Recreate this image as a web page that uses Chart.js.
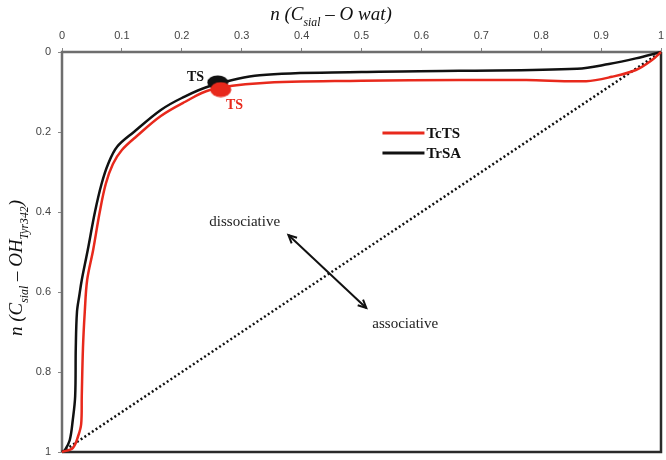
<!DOCTYPE html>
<html>
<head>
<meta charset="utf-8">
<script src="https://cdn.jsdelivr.net/npm/chart.js@4.4.1/dist/chart.umd.min.js"></script>
<style>
  html, body { margin: 0; padding: 0; background: #fff; }
  #wrap { width: 666px; height: 460px; }
</style>
</head>
<body>
<div id="wrap"><canvas id="chart"></canvas></div>
<script>
// данные кривых
const trsaX = [0, 0.005, 0.013, 0.018, 0.022, 0.023, 0.025, 0.029, 0.033, 0.043, 0.055, 0.066, 0.077, 0.092, 0.12, 0.165, 0.2, 0.247, 0.33, 0.5, 0.663, 0.86, 0.913, 0.958, 1];
const trsaY = [1, 0.995, 0.97, 0.92, 0.86, 0.74, 0.65, 0.608, 0.57, 0.495, 0.4, 0.33, 0.28, 0.237, 0.2, 0.145, 0.115, 0.085, 0.058, 0.05, 0.047, 0.042, 0.03, 0.016, 0];

const tctsX = [0, 0.018, 0.027, 0.032, 0.033, 0.035, 0.038, 0.042, 0.052, 0.063, 0.073, 0.085, 0.1, 0.125, 0.165, 0.205, 0.247, 0.33, 0.5, 0.663, 0.775, 0.875, 0.918, 0.958, 0.985, 1];
const tctsY = [1, 0.99, 0.96, 0.93, 0.86, 0.74, 0.65, 0.57, 0.495, 0.4, 0.33, 0.28, 0.245, 0.21, 0.16, 0.125, 0.095, 0.078, 0.072, 0.07, 0.07, 0.073, 0.062, 0.045, 0.02, 0];

const diagX = [0, 1];
const diagY = [1, 0];

// переходные состояния (TS)
const tsTrsa = [0.26, 0.076];
const tsTcts = [0.265, 0.094];

const xTickValues = [0, 0.1, 0.2, 0.3, 0.4, 0.5, 0.6, 0.7, 0.8, 0.9, 1];
const yTickValues = [0, 0.2, 0.4, 0.6, 0.8, 1];

// стрелка и подписи (в координатах данных)
const arrowFrom = [0.378, 0.4575];
const arrowTo = [0.508, 0.64];
const notes = [
  { text: 'dissociative', x: 0.305, y: 0.425, color: '#222', bold: false },
  { text: 'associative', x: 0.573, y: 0.68, color: '#222', bold: false },
  { text: 'TS', x: 0.223, y: 0.0625, color: '#111', bold: true },
  { text: 'TS', x: 0.288, y: 0.1325, color: '#e8291c', bold: true }
];

const RED = '#e8291c';

function toPoints(xs, ys) {
  return xs.map((x, i) => ({ x: x, y: ys[i] }));
}

// овальный маркер для TS
function makeEllipse(color, w, h) {
  const c = document.createElement('canvas');
  c.width = w; c.height = h;
  const g = c.getContext('2d');
  g.fillStyle = color;
  g.beginPath();
  g.ellipse(w / 2, h / 2, w / 2 - 0.5, h / 2 - 0.5, 0, 0, Math.PI * 2);
  g.fill();
  return c;
}

// текст с нижними индексами
function drawRich(ctx, parts, cx, cy, size) {
  let total = 0;
  parts.forEach(p => {
    ctx.font = 'italic ' + (p.sub ? size * 0.62 : size) + 'px "Liberation Serif", serif';
    p.w = ctx.measureText(p.t).width;
    total += p.w;
  });
  let x = cx - total / 2;
  parts.forEach(p => {
    ctx.font = 'italic ' + (p.sub ? size * 0.62 : size) + 'px "Liberation Serif", serif';
    ctx.fillText(p.t, x, cy + (p.sub ? size * 0.3 : 0));
    x += p.w;
  });
}

const decorPlugin = {
  id: 'decor',
  beforeDatasetsDraw(chart) {
    const { ctx, chartArea: a } = chart;
    ctx.save();
    ctx.lineWidth = 2.5;
    ctx.strokeStyle = '#6e6e6e';
    ctx.beginPath();
    ctx.moveTo(a.left, a.bottom);
    ctx.lineTo(a.left, a.top);
    ctx.lineTo(a.right, a.top);
    ctx.stroke();
    ctx.strokeStyle = '#2a2a2a';
    ctx.beginPath();
    ctx.moveTo(a.right, a.top);
    ctx.lineTo(a.right, a.bottom);
    ctx.lineTo(a.left, a.bottom);
    ctx.stroke();
    ctx.restore();
  },
  afterDatasetsDraw(chart) {
    const { ctx } = chart;
    const xs = chart.scales.x, ys = chart.scales.y;
    ctx.save();

    // двусторонняя стрелка
    const x1 = xs.getPixelForValue(arrowFrom[0]), y1 = ys.getPixelForValue(arrowFrom[1]);
    const x2 = xs.getPixelForValue(arrowTo[0]), y2 = ys.getPixelForValue(arrowTo[1]);
    ctx.strokeStyle = '#111';
    ctx.lineWidth = 2;
    ctx.beginPath();
    ctx.moveTo(x1, y1);
    ctx.lineTo(x2, y2);
    ctx.stroke();
    const ang = Math.atan2(y2 - y1, x2 - x1);
    [[x1, y1, ang + Math.PI], [x2, y2, ang]].forEach(([px, py, a]) => {
      ctx.beginPath();
      ctx.moveTo(px - 9 * Math.cos(a - 0.45), py - 9 * Math.sin(a - 0.45));
      ctx.lineTo(px, py);
      ctx.lineTo(px - 9 * Math.cos(a + 0.45), py - 9 * Math.sin(a + 0.45));
      ctx.stroke();
    });

    // подписи
    ctx.textAlign = 'center';
    ctx.textBaseline = 'middle';
    notes.forEach(n => {
      ctx.font = (n.bold ? 'bold 14px' : '15px') + ' "Liberation Serif", serif';
      ctx.fillStyle = n.color;
      ctx.fillText(n.text, xs.getPixelForValue(n.x), ys.getPixelForValue(n.y));
    });

    // легенда
    const legendItems = chart.data.datasets.filter(d => d.inLegend);
    legendItems.forEach((d, i) => {
      const ly = ys.getPixelForValue(0.2025 + i * 0.05);
      const lx = xs.getPixelForValue(0.535);
      ctx.strokeStyle = d.borderColor;
      ctx.lineWidth = 3;
      ctx.beginPath();
      ctx.moveTo(lx, ly);
      ctx.lineTo(lx + 42, ly);
      ctx.stroke();
      ctx.fillStyle = '#111';
      ctx.textAlign = 'left';
      ctx.font = 'bold 15px "Liberation Serif", serif';
      ctx.fillText(d.label, lx + 44, ly + 1);
    });

    // заголовки осей
    ctx.fillStyle = '#111';
    ctx.textAlign = 'left';
    ctx.textBaseline = 'alphabetic';
    drawRich(ctx, [{ t: 'n (C' }, { t: 'sial', sub: true }, { t: ' \u2013 O wat)' }], 331, 20, 19);
    ctx.translate(22, 268);
    ctx.rotate(-Math.PI / 2);
    drawRich(ctx, [{ t: 'n (C' }, { t: 'sial', sub: true }, { t: ' \u2013 OH' }, { t: 'Tyr342', sub: true }, { t: ')' }], 0, 0, 19);
    ctx.restore();
  }
};

const tickFont = { family: '"Liberation Sans", sans-serif', size: 11 };
const fmt = v => String(+v.toFixed(2));

const ctx = document.getElementById('chart').getContext('2d');
new Chart(ctx, {
  type: 'scatter',
  data: {
    datasets: [
      {
        label: 'TS TcTS',
        data: [{ x: tsTcts[0], y: tsTcts[1] }],
        pointStyle: makeEllipse(RED, 22, 16),
        order: 0
      },
      {
        label: 'TcTS',
        data: toPoints(tctsX, tctsY),
        showLine: true,
        borderColor: RED,
        borderWidth: 2.5,
        pointRadius: 0,
        tension: 0.35,
        clip: false,
        inLegend: true,
        order: 1
      },
      {
        label: 'TS TrSA',
        data: [{ x: tsTrsa[0], y: tsTrsa[1] }],
        pointStyle: makeEllipse('#111', 22, 15),
        order: 2
      },
      {
        label: 'TrSA',
        data: toPoints(trsaX, trsaY),
        showLine: true,
        borderColor: '#111',
        borderWidth: 2.5,
        pointRadius: 0,
        tension: 0.35,
        clip: false,
        inLegend: true,
        order: 3
      },
      {
        label: 'diagonal',
        data: toPoints(diagX, diagY),
        showLine: true,
        borderColor: '#111',
        borderWidth: 2.5,
        borderDash: [2, 2.5],
        pointRadius: 0,
        clip: false,
        order: 4
      }
    ]
  },
  options: {
    responsive: true,
    maintainAspectRatio: false,
    animation: false,
    layout: { padding: { left: 0, right: 4, top: 0, bottom: 8 } },
    plugins: {
      legend: { display: false },
      tooltip: { enabled: false }
    },
    scales: {
      x: {
        type: 'linear',
        position: 'top',
        min: 0,
        max: 1,
        afterFit: s => { s.height = 52; s.paddingLeft = 0; s.paddingRight = 0; },
        afterBuildTicks: s => { s.ticks = xTickValues.map(v => ({ value: v })); },
        grid: { drawOnChartArea: false, tickLength: 4, color: '#888' },
        border: { display: false },
        ticks: { color: '#444', padding: 5, font: tickFont, callback: fmt }
      },
      y: {
        type: 'linear',
        reverse: true,
        min: 0,
        max: 1,
        afterFit: s => { s.width = 62; s.paddingTop = 0; s.paddingBottom = 0; },
        afterBuildTicks: s => { s.ticks = yTickValues.map(v => ({ value: v })); },
        grid: { drawOnChartArea: false, tickLength: 4, color: '#888' },
        border: { display: false },
        ticks: { color: '#444', padding: 7, font: tickFont, callback: fmt }
      }
    }
  },
  plugins: [decorPlugin]
});
</script>
</body>
</html>
